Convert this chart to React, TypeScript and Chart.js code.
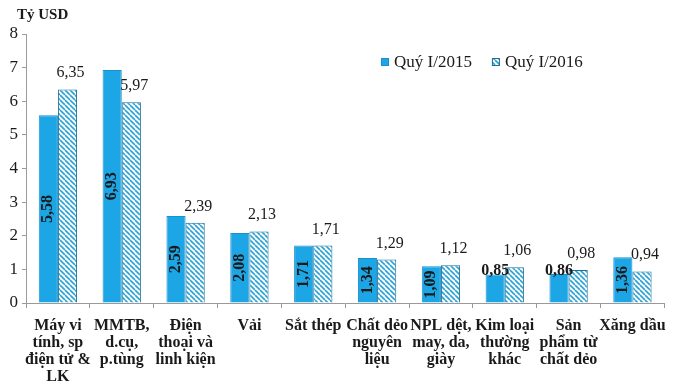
import React, { useEffect, useRef } from "react";
import { Chart, registerables } from "chart.js";

Chart.register(...registerables);

const categories: string[][] = [
  ["Máy vi", "tính, sp", "điện tử &", "LK"],
  ["MMTB,", "d.cụ,", "p.tùng"],
  ["Điện", "thoại và", "linh kiện"],
  ["Vải"],
  ["Sắt thép"],
  ["Chất dẻo", "nguyên", "liệu"],
  ["NPL dệt,", "may, da,", "giày"],
  ["Kim loại", "thường", "khác"],
  ["Sản", "phẩm từ", "chất dẻo"],
  ["Xăng dầu"],
];
const q2015: number[] = [5.58, 6.93, 2.59, 2.08, 1.71, 1.34, 1.09, 0.85, 0.86, 1.36];
const q2016: number[] = [6.35, 5.97, 2.39, 2.13, 1.71, 1.29, 1.12, 1.06, 0.98, 0.94];
const seriesNames: string[] = ["Quý I/2015", "Quý I/2016"];
const yTitle = "Tỷ USD";

const FONT = '"Liberation Serif", "Times New Roman", serif';
const BLUE = "#1ca6e6";
const BLUE_BORDER = "#1b8fcc";
const HATCH_LINE = "#2aa2d6";
const HATCH_BORDER = "#1f6f90";

function makeHatch(): CanvasPattern | string {
  const s = 5;
  const c = document.createElement("canvas");
  c.width = s;
  c.height = s;
  const ctx = c.getContext("2d");
  if (!ctx) return "#ffffff";
  ctx.fillStyle = "#ffffff";
  ctx.fillRect(0, 0, s, s);
  ctx.strokeStyle = HATCH_LINE;
  ctx.lineWidth = 1.6;
  for (const x0 of [-s, 0, s]) {
    ctx.beginPath();
    ctx.moveTo(x0, 0);
    ctx.lineTo(x0 + s, s);
    ctx.stroke();
  }
  const p = ctx.createPattern(c, "repeat");
  return p || "#ffffff";
}

const labelPlugin = {
  id: "valueLabels",
  afterDatasetsDraw(chart: any) {
    const ctx = chart.ctx;
    ctx.save();
    ctx.fillStyle = "#1a1a1a";
    chart.data.datasets.forEach((ds: any, di: number) => {
      const meta = chart.getDatasetMeta(di);
      meta.data.forEach((el: any, i: number) => {
        const v = ds.data[i] as number;
        const txt = v.toFixed(2).replace(".", ",");
        if (di === 0) {
          ctx.font = `bold 16px ${FONT}`;
          if (v >= 1) {
            ctx.save();
            ctx.translate(el.x, (el.y + el.base) / 2);
            ctx.rotate(-Math.PI / 2);
            ctx.textAlign = "center";
            ctx.textBaseline = "middle";
            ctx.fillText(txt, 0, 0);
            ctx.restore();
          } else {
            ctx.textAlign = "center";
            ctx.textBaseline = "alphabetic";
            ctx.fillText(txt, el.x, el.y + 1);
          }
        } else {
          ctx.font = `16px ${FONT}`;
          ctx.textAlign = "center";
          ctx.textBaseline = "alphabetic";
          ctx.fillText(txt, el.x + 3, el.y - 12);
        }
      });
    });
    ctx.restore();
  },
};

const decorPlugin = {
  id: "decor",
  afterDraw(chart: any) {
    const ctx = chart.ctx;
    const a = chart.chartArea;
    ctx.save();
    ctx.fillStyle = "#1a1a1a";
    ctx.font = `bold 15px ${FONT}`;
    ctx.textAlign = "left";
    ctx.textBaseline = "middle";
    ctx.fillText(yTitle, a.left - 9, a.top - 19);
    let x = a.left + 355;
    const y = a.top + 28;
    ctx.font = `17px ${FONT}`;
    chart.data.datasets.forEach((ds: any) => {
      ctx.fillStyle = ds.backgroundColor;
      ctx.fillRect(x, y - 4, 8, 8);
      ctx.strokeStyle = ds.borderColor;
      ctx.lineWidth = 1;
      ctx.strokeRect(x + 0.5, y - 3.5, 7, 7);
      ctx.fillStyle = "#1a1a1a";
      ctx.textBaseline = "middle";
      ctx.fillText(ds.label, x + 13, y + 1);
      x += 13 + ctx.measureText(ds.label).width + 20;
    });
    ctx.restore();
  },
};

export default function App() {
  const ref = useRef<HTMLCanvasElement | null>(null);
  useEffect(() => {
    if (!ref.current) return;
    const chart = new Chart(ref.current, {
      type: "bar",
      data: {
        labels: categories,
        datasets: [
          {
            label: seriesNames[0],
            data: q2015,
            backgroundColor: BLUE,
            borderColor: BLUE_BORDER,
            borderWidth: 1,
            categoryPercentage: 0.6,
            barPercentage: 1.0,
          },
          {
            label: seriesNames[1],
            data: q2016,
            backgroundColor: makeHatch() as any,
            borderColor: HATCH_BORDER,
            borderWidth: 1,
            categoryPercentage: 0.6,
            barPercentage: 1.0,
          },
        ],
      },
      options: {
        animation: false,
        responsive: false,
        devicePixelRatio: 1,
        layout: { padding: { top: 34, right: 9, left: 0, bottom: 0 } },
        plugins: {
          legend: { display: false },
          tooltip: { enabled: false },
          title: { display: false },
        },
        scales: {
          x: {
            grid: {
              display: true,
              drawOnChartArea: false,
              drawTicks: true,
              tickLength: 5,
              color: "#9a9a9a",
              offset: true,
            },
            border: { display: true, color: "#9a9a9a" },
            ticks: {
              color: "#1a1a1a",
              font: { family: FONT, size: 16, weight: "bold", lineHeight: 1.07 },
              padding: 9,
              maxRotation: 0,
              minRotation: 0,
              autoSkip: false,
            },
            afterFit: (s: any) => {
              s.height = 84;
            },
          },
          y: {
            min: 0,
            max: 8,
            grid: {
              display: true,
              drawOnChartArea: false,
              drawTicks: true,
              tickLength: 4,
              color: "#9a9a9a",
            },
            border: { display: true, color: "#9a9a9a" },
            ticks: {
              stepSize: 1,
              color: "#1a1a1a",
              font: { family: FONT, size: 17 },
              padding: 4,
            },
            afterFit: (s: any) => {
              s.width = 26;
            },
          },
        },
      },
      plugins: [labelPlugin, decorPlugin],
    });
    return () => chart.destroy();
  }, []);
  return (
    <div style={{ position: "fixed", left: 0, top: 0, width: 675, height: 387, background: "#fff" }}>
      <canvas ref={ref} width={675} height={387} />
    </div>
  );
}
